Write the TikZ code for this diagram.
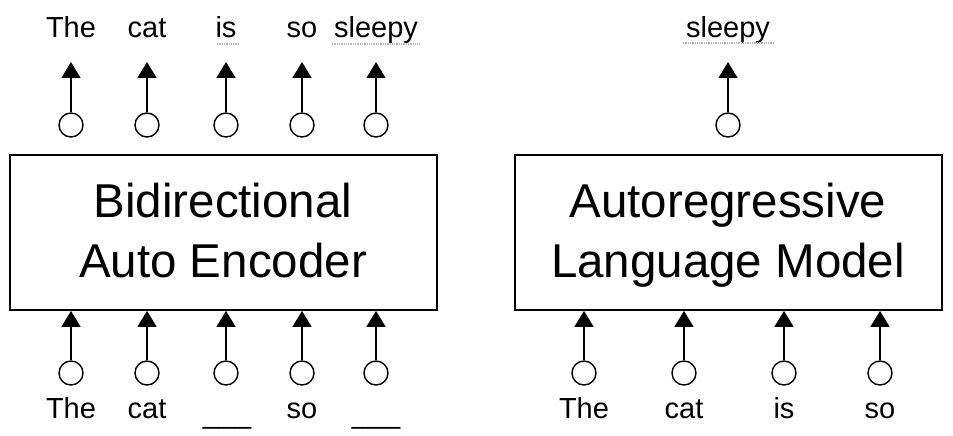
\documentclass[tikz,border=0pt]{standalone}
\usepackage{fontspec}
\setmainfont{Liberation Sans}
\usetikzlibrary{arrows.meta}
\begin{document}
\begin{tikzpicture}[x=1pt,y=-1pt,
  word/.style={anchor=base,inner sep=0pt,font=\fontsize{29}{32}\selectfont},
  big/.style={anchor=base,inner sep=0pt,font=\fontsize{47.5}{60}\selectfont},
  modelbox/.style={draw,line width=1.8pt,rectangle,minimum width=427pt,minimum height=155pt,inner sep=0pt},
  unit/.style={draw,circle,line width=1.4pt,minimum size=24pt,inner sep=0pt},
  flow/.style={line width=1.6pt,-{Triangle[length=16pt,width=19pt]}},
  spell/.style={draw=gray!55,line width=1.3pt,densely dotted}]
\useasboundingbox (0,0) rectangle (953,436);
\fill[white] (0,0) rectangle (953,436);
% boxes
\node[modelbox] (bae) at (223.5,232.5) {};
\node[modelbox] (alm) at (728.5,232.5) {};
\node[big] (bae1) at (223,217) {Bidirectional};
\node[big] (bae2) at (223,277) {Auto Encoder};
\node[big] (alm1) at (728,217) {Autoregressive};
\node[big] (alm2) at (728,277) {Language Model};
% left model: outputs
\foreach \x/\w [count=\i] in {71/The,147/cat,226/is,302/so,376/sleepy}{
  \node[unit] (lo\i) at (\x,125) {};
  \coordinate (lt\i) at (\x,62);
  \draw[flow] (lo\i.north) -- (lt\i);
  \node[word] (lw\i) at (\x,38) {\w};
}
\draw[spell] (217,44) -- (238,44);
\draw[spell] (332,44) -- (420,44);
% left model: inputs
\foreach \x [count=\i] in {71,147,226,302,376}{
  \node[unit] (li\i) at (\x,373) {};
  \draw[flow] (li\i.north) -- (li\i |- bae.south);
}
\node[word] (lb1) at (71,418) {The};
\node[word] (lb2) at (147,418) {cat};
\node[word] (lb3) at (227,423) {\_\_\_};
\node[word] (lb4) at (302,418) {so};
\node[word] (lb5) at (376,423) {\_\_\_};
% right model: output
\node[unit] (ro1) at (728,125) {};
\coordinate (rt1) at (728,62);
\draw[flow] (ro1.north) -- (rt1);
\node[word] (rw1) at (728,38) {sleepy};
\draw[spell] (683,43) -- (773,43);
% right model: inputs
\foreach \x/\w [count=\i] in {584/The,684/cat,784/is,880/so}{
  \node[unit] (ri\i) at (\x,373) {};
  \draw[flow] (ri\i.north) -- (ri\i |- alm.south);
  \node[word] (rb\i) at (\x,418) {\w};
}
\end{tikzpicture}
\end{document}
